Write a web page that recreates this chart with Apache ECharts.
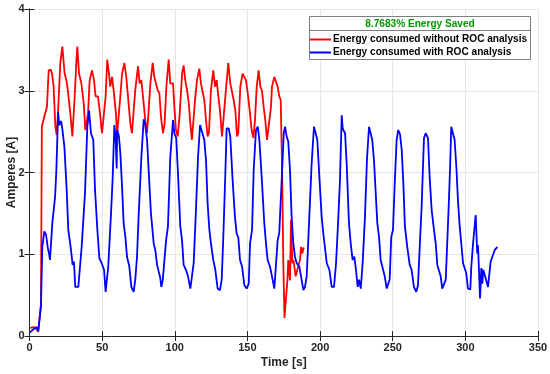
<!DOCTYPE html>
<html>
<head>
<meta charset="utf-8">
<script src="https://cdn.jsdelivr.net/npm/echarts@6/dist/echarts.min.js"></script>
<style>html,body{margin:0;padding:0;background:#fff}#c{width:550px;height:374px}</style>
</head>
<body>
<div id="c"></div>
<script>
var redT = [0.5,3,5,6,7.9,8.5,10.4,12,13.2,14.6,15.5,16.6,17.8,18.7,19.6,21.2,22.6,24.2,25.6,26.5,28.1,29.5,31.1,32.2,32.9,34.1,35.7,37.3,38.4,39.2,40.3,41.4,43,44.4,45.5,47.1,48.3,49.9,50.9,52.4,53.5,54.7,55.6,56.8,57.9,59.5,60.3,62.5,63.7,65.3,66.6,67.8,69.4,70.5,71.5,72.8,74.7,75.8,77,78.1,79.7,80.9,82,83.2,84.8,85.9,87,88.2,89.4,90.5,91.9,93,94.2,95.8,96.9,98,98.8,99.7,100.8,102,103.4,105,106.1,107.2,108.4,109.6,110.7,111.8,112.7,114,115.3,116.9,118,119,120.3,121.5,122.6,123.5,124.9,126.5,127.7,128.8,130,131.1,132.5,133.6,135.2,136.8,138.2,139.2,140.5,141.7,142.8,143.7,145.1,146.7,148,149,150.2,151.3,152.9,154.1,155.2,156.4,157.7,158.9,160,161.2,162.3,163.5,164.7,166.2,166.9,168.5,169.7,170.8,171.9,172.9,173.8,174.7,175.5,176,177.5,178.1,179.3,180,180.9,181.6,182.3,183.2,184.4,185.5,186.2,186.9,187.8,188.5,189.1];
var redV = [0.10,0.11,0.08,0.05,0.40,2.56,2.70,2.80,3.25,3.26,3.21,3.05,2.56,2.46,2.72,3.34,3.54,3.21,3.11,2.99,2.72,2.44,2.93,3.34,3.54,3.21,3.09,2.85,2.52,2.52,2.72,3.13,3.25,3.13,2.93,2.93,2.76,2.48,2.50,2.93,3.38,3.21,3.05,3.17,3.01,2.72,2.46,2.93,3.21,3.34,3.17,2.93,2.60,2.48,2.49,3.01,3.30,3.09,3.13,2.93,2.64,2.48,2.76,3.09,3.34,3.17,3.15,3.01,2.97,2.68,2.48,2.60,3.05,3.38,3.09,3.07,3.09,2.80,2.52,2.44,2.72,3.21,3.31,3.13,3.01,2.85,2.60,2.40,2.42,2.90,3.13,3.27,3.09,3.08,2.89,2.64,2.44,2.48,3.01,3.25,3.05,3.13,2.93,2.76,2.44,2.44,3.01,3.34,3.09,3.07,2.89,2.76,2.44,2.48,3.05,3.21,3.20,3.13,2.97,2.80,2.52,2.42,2.64,3.05,3.25,3.05,3.00,2.80,2.64,2.40,2.40,2.80,3.05,3.17,3.15,3.05,2.93,2.89,2.11,0.89,0.22,0.20,0.68,0.93,0.68,1.42,0.89,0.93,0.85,0.73,0.73,0.89,0.93,1.09,1.01,1.07,1.08];
var blueT = [0.3,2.5,4.9,6,6.8,7.9,8.8,10.2,11.4,12.5,13.5,14.1,15.7,17.6,18.5,19.7,20.5,21.7,22.4,24,25.6,26.7,28.3,29.7,30.6,31.5,33.6,35.9,38.2,39.8,41,42.3,43.9,45.1,46.7,48.1,49.7,51.3,52.4,53.1,54.2,56.1,57.2,58.4,59.3,60,60.3,61.5,62.5,63.7,64.8,66,67.1,68.7,70.1,71.7,72.8,74,75.1,77,78.6,79.7,80.9,82,83.6,85.5,86.6,87.8,88.9,90,90.7,91.7,93,94,95.3,96.9,98.8,99.7,101,102.2,103.8,105,106.1,107.7,109.1,110.7,111.8,113,114.6,116,117.4,118.5,120.3,121.5,122.6,123.8,124.9,126.5,127.9,129.5,131.1,132.3,133.4,134.8,135.7,137.1,138.2,139.8,141.4,142.6,143.7,144.9,146.3,147.9,149.5,150.9,151.8,153.2,154.3,155.9,157.1,158.2,159.8,161.6,162.8,163.9,165.5,166.9,168.5,169.7,170.8,171.9,173.6,175,175.9,177,178.1,179.3,180.4,181.6,182.7,183.9,185.7,186.9,188.5,189.6,190.8,192.6,194.2,195.8,197,198.1,199.5,201.1,202.2,202.9,204.6,206.4,208,209.6,211,212.6,213.7,214.9,215.5,216,217.2,218.3,219.9,221.1,222.4,223.6,224.7,225.9,226.8,228,229.3,230.9,232.3,233.7,234.5,235.9,237.1,238.3,239.4,240.6,241.7,242.8,244.5,245.9,246.8,247.9,249,250.2,251.4,252.7,253.8,255,256.2,257.3,258.4,260,261.7,263,264.6,266.2,267.4,268.8,269.9,271.5,272.7,274.3,275.4,276.8,278.4,279.6,280.7,281.9,283,284.1,285.3,286.5,287.6,288.7,289.5,290.3,291,292.6,293.8,294.9,296.1,297.2,298.4,299.5,300.6,301.8,303.4,304.1,305.3,307.1,308,308.2,308.7,309.4,310.1,311,311.7,312.3,313.3,314.5,315.6,316.5,317.4,319,320.2,321,322];
var blueV = [0.04,0.08,0.11,0.06,0.04,0.36,1.09,1.28,1.24,1.09,1.00,0.93,1.38,1.70,2.03,2.74,2.58,2.63,2.56,2.32,1.79,1.30,1.09,0.87,0.91,0.60,0.60,1.09,1.75,2.56,2.76,2.48,2.40,1.79,1.30,0.95,0.89,0.81,0.54,0.52,0.85,1.50,1.91,2.58,2.42,2.05,2.52,2.45,2.24,1.83,1.38,1.21,0.97,0.85,0.60,0.54,0.69,0.97,1.46,2.19,2.65,2.58,2.40,2.03,1.50,1.13,1.05,0.87,0.85,0.71,0.60,0.68,0.69,1.17,1.34,2.19,2.64,2.48,2.42,1.99,1.34,1.17,0.87,0.81,0.73,0.58,0.56,0.89,1.55,2.19,2.58,2.58,2.40,2.15,1.62,1.30,1.13,0.93,0.81,0.58,0.56,0.69,1.21,1.99,2.54,2.54,2.44,1.91,1.46,1.25,1.21,0.93,0.85,0.62,0.58,0.64,1.13,1.30,2.03,2.52,2.56,2.40,1.95,1.38,1.13,0.93,0.85,0.73,0.58,0.60,1.17,1.26,1.91,2.48,2.56,2.44,2.38,2.03,1.46,1.13,0.97,0.89,0.85,0.73,0.56,0.60,0.73,1.46,2.11,2.56,2.56,2.40,1.95,1.46,1.26,1.24,0.89,0.81,0.60,0.60,0.89,1.46,1.91,2.70,2.55,2.52,2.48,2.11,1.38,1.13,0.93,0.97,0.81,0.60,0.69,0.58,0.89,1.46,2.17,2.56,2.54,2.40,2.15,1.75,1.38,1.21,0.93,0.92,0.73,0.58,0.58,0.69,1.21,1.30,1.87,2.40,2.52,2.47,2.28,1.87,1.34,1.09,0.87,0.81,0.60,0.54,0.62,1.17,1.58,2.42,2.48,2.42,1.95,1.54,1.30,1.13,0.87,0.85,0.73,0.58,0.58,0.69,1.17,1.66,2.07,2.56,2.58,2.40,2.07,1.66,1.34,1.13,0.89,0.88,0.77,0.58,0.57,0.85,1.13,1.48,1.09,1.01,1.11,1.09,0.46,0.83,0.64,0.81,0.75,0.74,0.60,0.60,0.91,0.99,1.05,1.05,1.09];
var seriesNames = ['Energy consumed without ROC analysis','Energy consumed with ROC analysis'];
var legendTitle = '8.7683% Energy Saved';
var xTicks = {min:0,max:350,step:50};
var yTicks = {min:0,max:4,step:1};

function pairs(t,v){var o=[];for(var i=0;i<t.length;i++)o.push([t[i],v[i]]);return o;}
var FONT = "'Liberation Sans', Arial, Helvetica, sans-serif";
var axisCol = '#262626';
var chart = echarts.init(document.getElementById('c'), null, {renderer:'canvas'});
chart.setOption({
  animation:false,
  backgroundColor:'#fff',
  grid:{left:29.5,right:12,top:9,bottom:38,containLabel:false,outerBoundsMode:'none'},
  xAxis:[{
    type:'value',min:xTicks.min,max:xTicks.max,interval:xTicks.step,position:'bottom',
    name:'Time [s]',nameLocation:'middle',nameGap:21,nameMoveOverlap:false,
    nameTextStyle:{fontFamily:FONT,fontWeight:'bold',fontSize:12,color:axisCol},
    axisLine:{show:true,lineStyle:{color:axisCol,width:1}},
    axisTick:{show:true,inside:true,length:5,lineStyle:{color:axisCol}},
    axisLabel:{fontFamily:FONT,fontWeight:'bold',fontSize:11,color:axisCol,margin:6},
    splitLine:{show:true,lineStyle:{color:'#e6e6e6',width:1}}
  },{
    type:'value',min:xTicks.min,max:xTicks.max,interval:xTicks.step,position:'top',
    axisLine:{show:true,lineStyle:{color:axisCol,width:1}},
    axisTick:{show:true,inside:true,length:5,lineStyle:{color:axisCol}},
    axisLabel:{show:false},splitLine:{show:false}
  }],
  yAxis:[{
    type:'value',min:yTicks.min,max:yTicks.max,interval:yTicks.step,position:'left',
    name:'Amperes [A]',nameLocation:'middle',nameGap:12,nameMoveOverlap:false,
    nameTextStyle:{fontFamily:FONT,fontWeight:'bold',fontSize:12,color:axisCol},
    axisLine:{show:true,lineStyle:{color:axisCol,width:1}},
    axisTick:{show:true,inside:true,length:5,lineStyle:{color:axisCol}},
    axisLabel:{fontFamily:FONT,fontWeight:'bold',fontSize:11,color:axisCol,margin:5},
    splitLine:{show:true,lineStyle:{color:'#e6e6e6',width:1}}
  },{
    type:'value',min:yTicks.min,max:yTicks.max,interval:yTicks.step,position:'right',
    axisLine:{show:true,lineStyle:{color:axisCol,width:1}},
    axisTick:{show:true,inside:true,length:5,lineStyle:{color:axisCol}},
    axisLabel:{show:false},splitLine:{show:false}
  }],
  legend:{
    z:100,zlevel:0,
    orient:'vertical',left:310,top:33,padding:0,itemGap:0,
    itemWidth:21,itemHeight:2,icon:'rect',
    textStyle:{fontFamily:FONT,fontWeight:'bold',fontSize:10.1,color:'#000',lineHeight:13,padding:[0,0,0,-3]},
    data:seriesNames
  },
  graphic:{
    z:50,
    elements:[
      {type:'rect',z:50,shape:{x:309.5,y:16.5,width:221,height:43},style:{fill:'#fff',stroke:'#7f7f7f',lineWidth:1}},
      {type:'line',z:51,shape:{x1:309.5,y1:30.5,x2:530.5,y2:30.5},style:{stroke:'#7f7f7f',lineWidth:1}},
      {type:'text',z:52,x:420,y:24,style:{text:legendTitle,textAlign:'center',textVerticalAlign:'middle',fill:'#009900',font:'bold 10.1px '+FONT}}
    ]
  },
  series:[
    {name:seriesNames[0],type:'line',xAxisIndex:0,yAxisIndex:0,data:pairs(redT,redV),showSymbol:false,symbol:'none',
     lineStyle:{color:'#ff0000',width:1.8},itemStyle:{color:'#ff0000'},z:2},
    {name:seriesNames[1],type:'line',xAxisIndex:0,yAxisIndex:0,data:pairs(blueT,blueV),showSymbol:false,symbol:'none',
     lineStyle:{color:'#0000ff',width:1.8},itemStyle:{color:'#0000ff'},z:3}
  ]
});
</script>
</body>
</html>
